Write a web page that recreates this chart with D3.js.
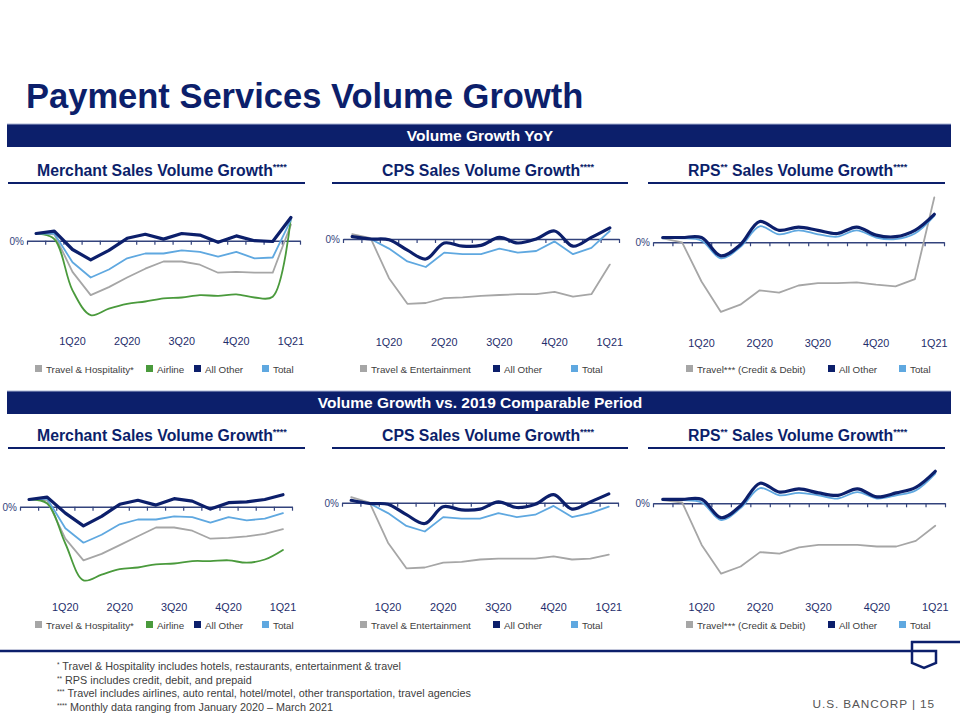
<!DOCTYPE html>
<html>
<head>
<meta charset="utf-8">
<script src="https://cdn.jsdelivr.net/npm/d3@7"></script>
<style>
  body { margin: 0; background: #fff; }
  svg { display: block; font-family: "Liberation Sans", Arial, sans-serif; }
</style>
</head>
<body>
<svg id="chart" width="960" height="720"></svg>
<script>
// ---- data (growth in %, monthly Jan 2020 - Mar 2021) ----
var months = ["Jan-20","Feb-20","Mar-20","Apr-20","May-20","Jun-20","Jul-20","Aug-20",
              "Sep-20","Oct-20","Nov-20","Dec-20","Jan-21","Feb-21","Mar-21"];
var quarterMonths = ["Mar-20","Jun-20","Sep-20","Dec-20","Mar-21"];
var quarterLabels = ["1Q20","2Q20","3Q20","4Q20","1Q21"];

// Volume growth YoY
var merchTravelYoY  = [9, 8, -39, -68, -58, -46, -35, -26, -26, -30, -40, -39, -40, -40, 20];
var merchAirlineYoY = [9, 2, -62, -93, -85, -79, -76, -72, -71, -68, -69, -67, -71, -70, 29];
var merchOtherYoY   = [9, 12, -11, -24, -12, 3, 8, 2, 9, 7, -2, 6, 0, -1, 29];
var merchTotalYoY   = [9, 9, -27, -46, -36, -22, -16, -16, -12, -14, -20, -14, -22, -21, 26];

var cpsTravelYoY = [6, 1, -49, -81, -80, -74, -73, -71, -70, -69, -69, -66, -72, -69, -32];
var cpsOtherYoY  = [3, 0, -1, -14, -25, -5, -9, -8, 2, -5, 0, 10, -9, 2, 14];
var cpsTotalYoY  = [3, 0, -12, -28, -35, -17, -19, -19, -12, -17, -15, -3, -19, -11, 10];

var rpsTravelYoY = [5, 0, -49, -87, -78, -60, -63, -54, -51, -51, -50, -53, -55, -46, 56];
var rpsOtherYoY  = [6, 6, 6, -17, -3, 26, 15, 19, 15, 11, 19, 9, 7, 15, 35];
var rpsTotalYoY  = [5, 5, 2, -20, -6, 20, 10, 15, 10, 7, 15, 6, 4, 11, 33];

// Volume growth vs. 2019
var merchTravel19  = [9, 8, -40, -67, -59, -48, -37, -26, -26, -30, -40, -39, -37, -34, -28];
var merchAirline19 = [9, 4, -46, -92, -85, -78, -76, -72, -71, -68, -68, -67, -70, -66, -54];
var merchOther19   = [9, 12, -8, -24, -12, 3, 8, 2, 10, 7, -3, 5, 6, 9, 15];
var merchTotal19   = [9, 10, -27, -45, -35, -22, -16, -16, -12, -13, -20, -13, -17, -15, -8];

var cpsTravel19 = [7, 0, -50, -82, -81, -75, -74, -71, -70, -70, -70, -67, -71, -70, -65];
var cpsOther19  = [3, -1, -2, -15, -26, -5, -9, -8, 1, -6, -2, 10, -8, 1, 11];
var cpsTotal19  = [3, -1, -13, -29, -36, -18, -20, -20, -13, -18, -15, -4, -18, -13, -5];

var rpsTravel19 = [4, 1, -52, -88, -79, -61, -63, -55, -52, -52, -52, -54, -54, -47, -28];
var rpsOther19  = [5, 5, 5, -18, -3, 25, 14, 18, 13, 10, 18, 8, 13, 20, 40];
var rpsTotal19  = [4, 4, 1, -21, -6, 19, 10, 13, 10, 6, 14, 6, 10, 16, 37];

var footnotes = [
  ["*", "Travel & Hospitality includes hotels, restaurants, entertainment & travel"],
  ["**", "RPS includes credit, debit, and prepaid"],
  ["***", "Travel includes airlines, auto rental, hotel/motel, other transportation, travel agencies"],
  ["****", "Monthly data ranging from January 2020 \u2013 March 2021"]
];

// ---- styles ----
var NAVY = "#0c1f6b", GRAY = "#a6a6a6", GREEN = "#4a9a3c", LIGHT = "#5fa8e0";
var AXIS = "#33437c", TEXT = "#404040";

var svg = d3.select("#chart");

// page title
svg.append("text")
  .attr("x", 26).attr("y", 108)
  .attr("fill", NAVY).attr("font-weight", "bold").attr("font-size", 34.5)
  .text("Payment Services Volume Growth");

// banners
function banner(y, label) {
  svg.append("rect").attr("x", 7).attr("y", y).attr("width", 944).attr("height", 23)
    .attr("fill", NAVY);
  svg.append("line").attr("x1", 7).attr("x2", 951).attr("y1", y).attr("y2", y)
    .attr("stroke", "#a9b3d3").attr("stroke-width", 1);
  svg.append("text").attr("x", 480).attr("y", y + 17)
    .attr("text-anchor", "middle").attr("fill", "#fff")
    .attr("font-weight", "bold").attr("font-size", 15.5)
    .text(label);
}
banner(124, "Volume Growth YoY");
banner(391, "Volume Growth vs. 2019 Comparable Period");

// ---- panels ----
function mk(name, values, color, width, smooth) {
  return { name: name, values: values, color: color, width: width, smooth: smooth };
}

var panels = [
  { pre: "Merchant", sup1: "", titleX: 37, lineX: [8, 305], top: 176, x0: 27, x1: 300, zeroY: 240.7, labelY: 345, legendY: 369,
    series: [mk("Travel & Hospitality*", merchTravelYoY, GRAY, 1.8, false),
             mk("Airline", merchAirlineYoY, GREEN, 1.8, true),
             mk("Total", merchTotalYoY, LIGHT, 1.8, false),
             mk("All Other", merchOtherYoY, NAVY, 3.2, false)],
    legend: [["Travel & Hospitality*", GRAY, 35], ["Airline", GREEN, 146], ["All Other", NAVY, 194], ["Total", LIGHT, 262]] },
  { pre: "CPS", sup1: "", titleX: 382, lineX: [332, 628], top: 176, x0: 343, x1: 619, zeroY: 239, labelY: 346, legendY: 369,
    series: [mk("Travel & Entertainment", cpsTravelYoY, GRAY, 1.8, false),
             mk("Total", cpsTotalYoY, LIGHT, 1.8, false),
             mk("All Other", cpsOtherYoY, NAVY, 3.2, true)],
    legend: [["Travel & Entertainment", GRAY, 360], ["All Other", NAVY, 493], ["Total", LIGHT, 571]] },
  { pre: "RPS", sup1: "**", titleX: 688, lineX: [648, 945], top: 176, x0: 653, x1: 944, zeroY: 242.3, labelY: 347, legendY: 369,
    series: [mk("Travel*** (Credit & Debit)", rpsTravelYoY, GRAY, 1.8, false),
             mk("Total", rpsTotalYoY, LIGHT, 1.8, true),
             mk("All Other", rpsOtherYoY, NAVY, 3.2, true)],
    legend: [["Travel*** (Credit & Debit)", GRAY, 686], ["All Other", NAVY, 828], ["Total", LIGHT, 899]] },
  { pre: "Merchant", sup1: "", titleX: 37, lineX: [8, 305], top: 441, x0: 20, x1: 292, zeroY: 506.7, labelY: 611, legendY: 625,
    series: [mk("Travel & Hospitality*", merchTravel19, GRAY, 1.8, false),
             mk("Airline", merchAirline19, GREEN, 1.8, true),
             mk("Total", merchTotal19, LIGHT, 1.8, false),
             mk("All Other", merchOther19, NAVY, 3.2, false)],
    legend: [["Travel & Hospitality*", GRAY, 35], ["Airline", GREEN, 146], ["All Other", NAVY, 194], ["Total", LIGHT, 262]] },
  { pre: "CPS", sup1: "", titleX: 382, lineX: [332, 628], top: 441, x0: 342, x1: 618, zeroY: 502.7, labelY: 611, legendY: 625,
    series: [mk("Travel & Entertainment", cpsTravel19, GRAY, 1.8, false),
             mk("Total", cpsTotal19, LIGHT, 1.8, false),
             mk("All Other", cpsOther19, NAVY, 3.2, true)],
    legend: [["Travel & Entertainment", GRAY, 360], ["All Other", NAVY, 493], ["Total", LIGHT, 571]] },
  { pre: "RPS", sup1: "**", titleX: 688, lineX: [648, 945], top: 441, x0: 653, x1: 945, zeroY: 503.3, labelY: 611, legendY: 625,
    series: [mk("Travel*** (Credit & Debit)", rpsTravel19, GRAY, 1.8, false),
             mk("Total", rpsTotal19, LIGHT, 1.8, true),
             mk("All Other", rpsOther19, NAVY, 3.2, true)],
    legend: [["Travel*** (Credit & Debit)", GRAY, 686], ["All Other", NAVY, 828], ["Total", LIGHT, 899]] }
];

panels.forEach(function(p) {
  var g = svg.append("g");

  // subtitle
  var t = g.append("text").attr("x", p.titleX).attr("y", p.top)
    .attr("fill", NAVY).attr("font-weight", "bold").attr("font-size", 15.8);
  t.append("tspan").text(p.pre);
  if (p.sup1) t.append("tspan").attr("font-size", 9).attr("dy", -6).text(p.sup1);
  t.append("tspan").attr("dy", p.sup1 ? 6 : 0).text(" Sales Volume Growth");
  t.append("tspan").attr("font-size", 9).attr("dy", -6).text("****");

  g.append("line").attr("x1", p.lineX[0]).attr("x2", p.lineX[1])
    .attr("y1", p.top + 7).attr("y2", p.top + 7)
    .attr("stroke", NAVY).attr("stroke-width", 2);

  var x = d3.scalePoint().domain(months).range([p.x0, p.x1]).padding(0.5);
  var xt = d3.scaleLinear().domain([0, months.length]).range([p.x0, p.x1]);
  var y = d3.scaleLinear().domain([-100, 60]).range([p.zeroY + 80, p.zeroY - 48]);

  // axis at 0%
  var ax = g.append("g").attr("transform", "translate(0," + y(0) + ")")
    .call(d3.axisBottom(xt).tickValues(d3.range(months.length + 1))
      .tickSize(4).tickSizeOuter(0).tickFormat(""));
  ax.select(".domain").attr("stroke", AXIS).attr("stroke-width", 1.6);
  ax.selectAll(".tick line").attr("stroke", AXIS).attr("stroke-width", 1.2);

  g.append("text").attr("x", p.x0 - 3).attr("y", y(0) + 4)
    .attr("text-anchor", "end").attr("font-size", 10).attr("fill", AXIS).text("0%");

  // quarter labels
  g.selectAll(".ql").data(quarterMonths).enter().append("text")
    .attr("x", function(d) { return x(d); }).attr("y", p.labelY)
    .attr("text-anchor", "middle").attr("font-size", 10.8).attr("fill", "#1e2d6b")
    .text(function(d, i) { return quarterLabels[i]; });

  // lines
  p.series.forEach(function(s) {
    var line = d3.line()
      .x(function(d, i) { return x(months[i]); })
      .y(function(d) { return y(d); })
      .curve(s.smooth ? d3.curveCatmullRom.alpha(0.5) : d3.curveLinear);
    g.append("path").datum(s.values)
      .attr("d", line).attr("fill", "none")
      .attr("stroke", s.color).attr("stroke-width", s.width)
      .attr("stroke-linejoin", "round").attr("stroke-linecap", "round");
  });

  // legend
  p.legend.forEach(function(l) {
    g.append("rect").attr("x", l[2]).attr("y", p.legendY - 4)
      .attr("width", 7).attr("height", 7).attr("fill", l[1]);
    g.append("text").attr("x", l[2] + 11).attr("y", p.legendY + 3.5)
      .attr("font-size", 9.8).attr("fill", TEXT).text(l[0]);
  });
});

// footer rule + logo
svg.append("line").attr("x1", 0).attr("x2", 912).attr("y1", 651).attr("y2", 651)
  .attr("stroke", NAVY).attr("stroke-width", 2.5);
svg.append("line").attr("x1", 911).attr("x2", 960).attr("y1", 642).attr("y2", 642)
  .attr("stroke", NAVY).attr("stroke-width", 2.5);
svg.append("path")
  .attr("d", "M912,641 L912,663 L924,668 L936,663 L936,651 L912,651")
  .attr("fill", "none").attr("stroke", NAVY).attr("stroke-width", 2.5)
  .attr("stroke-linejoin", "miter");

svg.append("text").attr("x", 935).attr("y", 708).attr("text-anchor", "end")
  .attr("font-size", 11.8).attr("fill", "#555").attr("letter-spacing", 0.9)
  .text("U.S. BANCORP  |  15");

// footnotes
footnotes.forEach(function(f, i) {
  var t = svg.append("text").attr("x", 57).attr("y", 670 + i * 13.5)
    .attr("font-size", 10.8).attr("fill", TEXT);
  t.append("tspan").attr("font-size", 6.5).attr("dy", -3).text(f[0]);
  t.append("tspan").attr("dy", 3).text(" " + f[1]);
});
</script>
</body>
</html>
